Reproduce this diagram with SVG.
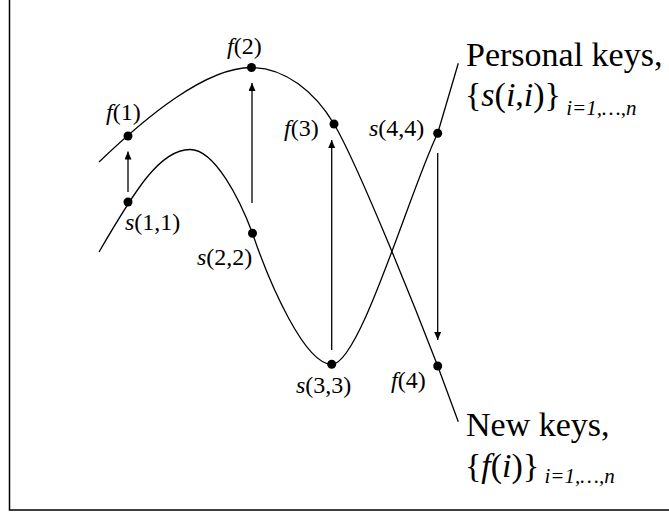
<svg xmlns="http://www.w3.org/2000/svg" width="669" height="514" viewBox="0 0 669 514">
<style>
.curve{fill:none;stroke:#000;stroke-width:1.3}
.arr{stroke:#000;stroke-width:1.3;fill:none;marker-end:url(#ah)}
.dot{fill:#000}
text{font-family:"Liberation Serif","Times New Roman",serif;fill:#000}
.lbl{font-size:24px}
.big{font-size:34px}
.sub{font-size:21px;font-style:italic}
.it{font-style:italic}
.frame{stroke:#000;stroke-width:1.5;fill:none}
</style>
<defs>
<marker id="ah" markerUnits="userSpaceOnUse" markerWidth="8" markerHeight="10" refX="8" refY="3.5" orient="auto">
<path d="M0,0 L8,3.5 L0,7 z" fill="#000"/>
</marker>
</defs>
<rect width="669" height="514" fill="#fff"/>
<path class="frame" d="M9.5,0 V510 H669"/>
<g id="connectors">
<path id="curve-f" class="curve" d="M99,162 C145,118 205,67.5 251.5,67.5 C285,67.5 315,92 334,124 C356.8,162.4 412.7,301 437.7,366 L458.3,421.7"/>
<path id="curve-s" class="curve" d="M99,252 C135,190 160,149.5 190,149.5 C215,149.5 240,200 252.5,233.3 C270,285 305,364.3 331.7,364.3 C360,364.3 410,190 437.7,133.3 L458.3,63.3"/>
<line class="arr" x1="128" y1="192" x2="128" y2="151.5"/>
<line class="arr" x1="252" y1="203" x2="252" y2="83"/>
<line class="arr" x1="331.7" y1="350" x2="331.7" y2="140"/>
<line class="arr" x1="437.7" y1="153" x2="437.7" y2="340"/>
</g>
<g id="f1"><circle class="dot" cx="128" cy="136" r="4.5"/><text class="lbl" x="106" y="120"><tspan class="it">f</tspan>(1)</text></g>
<g id="s11"><circle class="dot" cx="128" cy="202" r="4.5"/><text class="lbl" x="125" y="230"><tspan class="it">s</tspan>(1,1)</text></g>
<g id="f2"><circle class="dot" cx="251.5" cy="67.5" r="4.5"/><text class="lbl" x="227" y="54"><tspan class="it">f</tspan>(2)</text></g>
<g id="s22"><circle class="dot" cx="252.5" cy="233.3" r="4.5"/><text class="lbl" x="197" y="265"><tspan class="it">s</tspan>(2,2)</text></g>
<g id="f3"><circle class="dot" cx="334" cy="124" r="4.5"/><text class="lbl" x="284" y="136"><tspan class="it">f</tspan>(3)</text></g>
<g id="s33"><circle class="dot" cx="331.7" cy="364.3" r="4.5"/><text class="lbl" x="296" y="393"><tspan class="it">s</tspan>(3,3)</text></g>
<g id="s44"><circle class="dot" cx="437.7" cy="133.3" r="4.5"/><text class="lbl" x="369" y="136"><tspan class="it">s</tspan>(4,4)</text></g>
<g id="f4"><circle class="dot" cx="437.7" cy="366" r="4.5"/><text class="lbl" x="391" y="388"><tspan class="it">f</tspan>(4)</text></g>
<g id="personal-keys">
<text class="big" x="466" y="66">Personal keys,</text>
<text class="big" x="465" y="106">{<tspan class="it">s</tspan>(<tspan class="it">i</tspan>,<tspan class="it">i</tspan>)}<tspan class="sub" dy="9"> i=1,…,n</tspan></text>
</g>
<g id="new-keys">
<text class="big" x="466" y="436">New keys,</text>
<text class="big" x="465" y="477">{<tspan class="it">f</tspan>(<tspan class="it">i</tspan>)}<tspan class="sub" dy="6"> i=1,…,n</tspan></text>
</g>
</svg>
